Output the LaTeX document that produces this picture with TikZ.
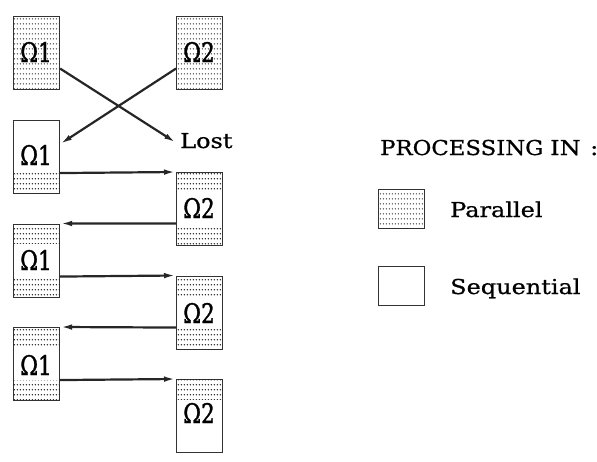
\documentclass[tikz,border=0pt]{standalone}
\usepackage{fontspec}
\setmainfont[FakeStretch=1.17,FakeBold=0.8]{DejaVu Serif}
\newfontfamily\omfont[FakeStretch=0.8,FakeBold=1.2]{DejaVu Serif}
\usetikzlibrary{patterns,arrows.meta}
\pgfdeclarepatternformonly{sdots}{\pgfpointorigin}{\pgfpoint{3.3pt}{5pt}}{\pgfpoint{3.3pt}{5pt}}{\pgfpathcircle{\pgfpoint{1.65pt}{2.5pt}}{0.85pt}\pgfusepath{fill}}
\tikzset{
  box/.style={draw=black!80, line width=1.1pt, fill=white, minimum width=46pt, minimum height=73pt, inner sep=0pt, anchor=north west},
  lbox/.style={draw=black!80, line width=1.1pt, fill=white, minimum width=46pt, minimum height=39pt, inner sep=0pt, anchor=north west},
  pat/.style={pattern=sdots, pattern color=black!85},
  omega/.style={inner sep=0pt, anchor=base, font=\omfont\fontsize{27}{27}\selectfont},
  txt/.style={inner sep=0pt, anchor=base west, font=\fontsize{20.5}{20}\selectfont},
  arr/.style={draw=black!85, line width=2.2pt, -{Latex[length=12pt,width=5.5pt]}},
}
\begin{document}
\begin{tikzpicture}[x=1pt,y=-1pt]
\useasboundingbox (0,0) rectangle (597,461);
% boxes
\node[box] (A) at (13,16) {};
\node[box] (B) at (176,16) {};
\node[box] (C) at (13,120) {};
\node[box] (D) at (176,172) {};
\node[box] (E) at (13,223.5) {};
\node[box] (F) at (176,275.5) {};
\node[box] (G) at (13,327) {};
\node[box] (H) at (176,379) {};
% dotted (parallel) parts
\fill[pat] ([shift={(0.6pt,0.6pt)}]A.south west) rectangle ([shift={(-0.6pt,-0.6pt)}]A.north east);
\fill[pat] ([shift={(0.6pt,0.6pt)}]B.south west) rectangle ([shift={(-0.6pt,-0.6pt)}]B.north east);
\fill[pat] ([shift={(0.6pt,0.6pt)}]C.south west) rectangle ([shift={(-0.6pt,21pt)}]C.south east);
\foreach \n in {D,E,F,G}{
  \fill[pat] ([shift={(0.6pt,0.6pt)}]\n.south west) rectangle ([shift={(-0.6pt,21pt)}]\n.south east);
  \fill[pat] ([shift={(0.6pt,-0.6pt)}]\n.north west) rectangle ([shift={(-0.6pt,-20pt)}]\n.north east);
}
\fill[pat] ([shift={(0.6pt,-0.6pt)}]H.north west) rectangle ([shift={(-0.6pt,-20pt)}]H.north east);
% labels
\node[omega] (tA) at (36,62) {Ω1};
\node[omega] (tB) at (199,62) {Ω2};
\node[omega] (tC) at (36,165) {Ω1};
\node[omega] (tD) at (199,218) {Ω2};
\node[omega] (tE) at (36,270) {Ω1};
\node[omega] (tF) at (199,323) {Ω2};
\node[omega] (tG) at (36,375) {Ω1};
\node[omega] (tH) at (199,423) {Ω2};
\node[txt] (lost) at (180,148) {Lost};
% arrows
\draw[arr] ([yshift=-15.5pt]A.east) -- ([xshift=-4pt,yshift=-2pt]lost.west);
\draw[arr] ([yshift=-15.5pt]B.west) -- ([yshift=13pt]C.east);
\draw[arr] ([yshift=-16pt]C.east) -- (D.north west);
\draw[arr] ([yshift=-14.5pt]D.west) -- (E.north east);
\draw[arr] ([yshift=-16pt]E.east) -- (F.north west);
\draw[arr] ([yshift=-15pt]F.west) -- (G.north east);
\draw[arr] ([yshift=-16pt]G.east) -- (H.north west);
% legend
\node[txt] (title) at (380,155) {\makebox[170pt][l]{\scalebox{0.95}[1]{PROCESSING}}\makebox[40pt][l]{IN}:};
\node[lbox] (Lpar) at (378,189) {};
\fill[pat] ([shift={(0.6pt,0.6pt)}]Lpar.south west) rectangle ([shift={(-0.6pt,-0.6pt)}]Lpar.north east);
\node[lbox] (Lseq) at (378,265.5) {};
\node[txt] (tpar) at (450,217) {Parallel};
\node[txt] (tseq) at (450,294) {Sequential};
\end{tikzpicture}
\end{document}
